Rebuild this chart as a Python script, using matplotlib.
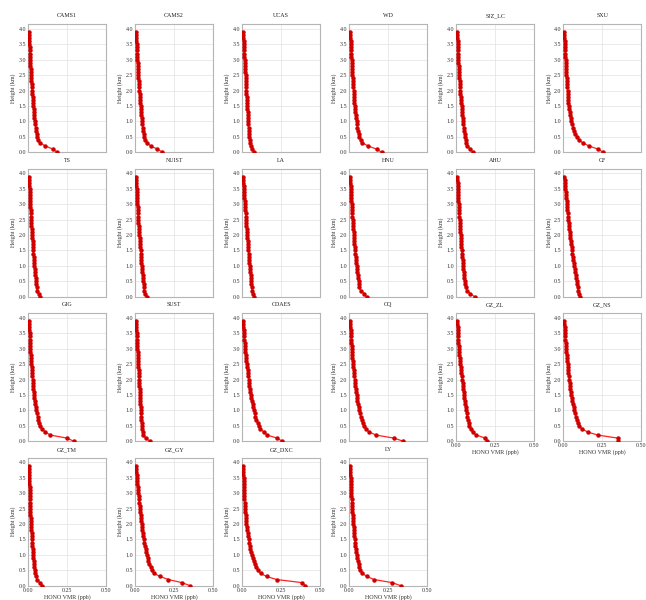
import numpy as np
import matplotlib
matplotlib.use("Agg")
import matplotlib.pyplot as plt

plt.rcParams['font.family'] = ['Liberation Serif', 'DejaVu Serif']

# profile heights (km)
heights = [0.0, 0.1, 0.2, 0.3, 0.4, 0.5, 0.6, 0.7, 0.8, 0.9,
           1.0, 1.1, 1.2, 1.3, 1.4, 1.5, 1.6, 1.7, 1.8, 1.9,
           2.0, 2.1, 2.2, 2.3, 2.4, 2.5, 2.6, 2.7, 2.8, 2.9,
           3.0, 3.1, 3.2, 3.3, 3.4, 3.5, 3.6, 3.7, 3.8, 3.9]

sites = ['CAMS1', 'CAMS2', 'UCAS', 'WD', 'SJZ_LC', 'SXU',
         'TS', 'NUIST', 'LA', 'HNU', 'AHU', 'CF',
         'GIG', 'SUST', 'CDAES', 'CQ', 'GZ_ZL', 'GZ_NS',
         'GZ_TM', 'GZ_GY', 'GZ_DXC', 'LY']

# HONO VMR in ppt, bottom to top
cams1 = [186,160,111,79,66,58,55,52,49,46,43,41,39,38,36,34,33,31,29,28,26,25,23,22,21,19,18,17,15,14,13,12,11,10,10,9,8,7,7,6]
cams2 = [175,143,100,79,66,58,55,52,50,47,45,43,41,39,37,36,34,32,30,29,28,26,25,23,22,21,19,18,17,16,15,14,13,12,11,10,9,8,7,6]
ucas = [75,62,54,50,48,46,44,42,41,39,38,37,36,35,34,33,32,31,29,28,27,26,25,24,23,22,21,20,19,17,16,15,14,13,12,11,10,8,7,6]
wd = [207,175,122,85,73,64,60,56,53,50,47,45,42,40,38,36,34,32,31,29,28,26,25,23,22,20,19,18,17,16,15,14,13,12,11,10,9,8,7,6]
sjz_lc = [107,90,71,64,60,56,53,50,48,45,43,41,39,37,35,34,32,30,29,27,26,24,23,22,20,19,18,17,15,14,13,12,11,10,10,9,8,7,7,6]
sxu = [255,222,165,125,100,85,77,69,63,57,52,48,44,41,38,35,33,31,29,28,27,25,24,22,21,20,19,18,16,15,14,13,12,11,10,9,8,7,7,6]
ts = [79,68,58,55,53,51,49,47,45,43,41,39,38,36,35,33,32,30,29,27,26,25,24,22,21,20,19,18,17,16,15,14,13,12,11,10,9,8,7,6]
nuist = [75,64,58,56,55,53,51,49,47,45,43,41,40,38,36,35,33,32,30,29,28,26,25,24,22,21,20,19,17,16,15,14,13,12,11,10,9,8,7,6]
la = [79,71,64,61,60,58,56,54,53,51,49,47,46,44,42,40,39,37,35,34,32,31,29,28,26,25,23,22,20,19,17,16,15,13,12,11,9,8,7,6]
hnu = [111,94,73,64,62,60,57,54,52,49,47,45,43,41,39,38,36,34,33,31,30,28,27,25,24,22,21,19,18,16,15,14,13,12,11,10,9,8,7,6]
ahu = [117,90,68,60,56,53,51,49,47,45,43,41,40,38,36,35,33,32,30,29,28,26,25,24,22,21,20,19,17,16,15,14,13,12,11,10,9,8,7,6]
cf = [106,98,93,91,88,85,82,79,76,73,70,67,64,61,58,56,53,50,47,45,42,40,38,36,34,32,30,28,26,24,23,21,19,17,15,13,11,9,8,6]
gig = [293,250,143,111,90,79,73,66,61,57,53,50,47,44,41,39,37,35,33,31,30,28,26,25,23,22,21,19,18,16,15,14,13,12,11,10,9,8,7,6]
sust = [96,68,53,49,47,45,43,41,39,38,36,35,34,33,32,31,30,29,28,27,26,25,24,23,21,20,19,18,17,16,15,14,13,12,11,10,9,8,7,6]
cdaes = [256,224,160,139,117,107,99,91,85,80,75,71,67,63,59,56,53,50,47,45,43,40,38,35,33,31,28,26,23,21,19,17,16,14,12,11,9,8,7,6]
cq = [346,286,171,128,107,94,86,79,73,68,64,60,56,53,50,47,44,41,39,37,36,33,31,29,27,25,23,21,19,18,17,15,14,13,11,10,9,8,7,6]
gz_zl = [197,186,128,104,92,84,80,75,71,67,64,61,58,55,52,49,47,44,42,40,38,36,33,31,29,27,25,22,20,19,17,15,14,13,11,10,9,8,7,6]
gz_ns = [350,350,219,155,119,102,94,86,80,75,70,66,62,58,54,51,48,45,42,40,38,35,33,31,29,27,25,23,21,19,17,16,14,13,11,10,9,8,7,6]
gz_tm = [90,75,58,51,47,43,41,39,37,34,32,31,29,28,26,25,24,23,21,20,19,18,17,16,15,15,14,13,12,12,11,10,10,9,9,8,8,7,7,6]
gz_gy = [353,300,214,160,122,107,99,91,85,80,75,71,67,63,59,56,53,50,47,45,43,40,38,35,33,31,29,27,25,23,21,19,17,15,13,11,10,8,7,6]
gz_dxc = [405,384,222,157,118,100,89,80,73,67,62,57,53,49,45,42,39,36,33,30,28,26,24,22,20,19,18,16,15,14,13,12,11,10,9,9,8,7,7,6]
ly = [330,276,160,113,85,72,66,60,56,52,48,45,42,40,37,35,33,31,29,28,26,25,23,22,20,19,18,16,15,14,13,12,11,10,10,9,8,7,7,6]

profiles = [cams1, cams2, ucas, wd, sjz_lc, sxu,
            ts, nuist, la, hnu, ahu, cf,
            gig, sust, cdaes, cq, gz_zl, gz_ns,
            gz_tm, gz_gy, gz_dxc, ly]

fig, axes = plt.subplots(4, 6, figsize=(6.46, 6.0), dpi=100)
fig.subplots_adjust(left=0.0433, right=0.993, bottom=0.0238, top=0.9595,
                    wspace=0.37, hspace=0.13)
axes = axes.flatten()

with_xlabels = [16, 17, 18, 19, 20, 21]
fs = 4.3

for i, ax in enumerate(axes):
    if i >= len(sites):
        ax.remove()
        continue
    vmr = np.array(profiles[i]) / 1000.0
    ax.plot(vmr, heights, color='#ff2222', lw=0.9, marker='o', ms=2.2,
            mfc='#d00000', mec='#d00000', zorder=3)
    ax.set_xlim(0, 0.5)
    ax.set_ylim(0, 4.15)
    ax.set_xticks([0, 0.25, 0.5])
    ax.set_yticks(np.arange(0, 4.01, 0.5))
    ax.grid(True, color='#e2e2e2', lw=0.5)
    ax.set_axisbelow(True)
    for sp in ax.spines.values():
        sp.set_color('#b5b5b5')
        sp.set_linewidth(0.8)
    ax.tick_params(length=0, pad=1.5, labelsize=fs, colors='#333333')
    ax.yaxis.set_major_formatter(matplotlib.ticker.FormatStrFormatter('%.1f'))
    ax.xaxis.set_major_formatter(matplotlib.ticker.FormatStrFormatter('%.2f'))
    ax.set_title(sites[i], fontsize=fs, pad=5, color='#222222')
    ax.set_ylabel('Height (km)', fontsize=fs, labelpad=1.5, color='#333333')
    if i in with_xlabels:
        ax.set_xlabel('HONO VMR (ppb)', fontsize=fs, labelpad=1, color='#333333')
    else:
        ax.tick_params(labelbottom=False)

plt.savefig('out.png', dpi=100)
